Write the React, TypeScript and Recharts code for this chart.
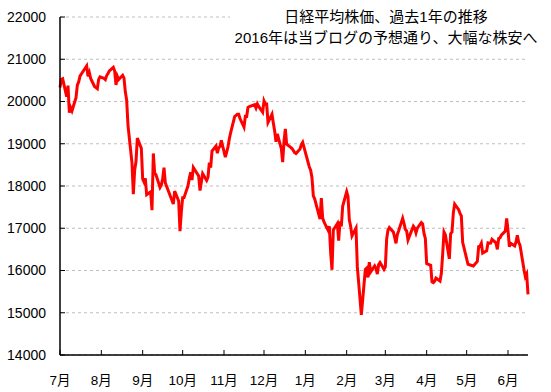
import React from 'react'
import { LineChart, Line, XAxis, YAxis, CartesianGrid } from 'recharts'

// 日経平均 終値 [日, 終値]
const jul2015 = [
  [1, 20329.32], [2, 20522.83], [3, 20539.79], [6, 20112.12], [7, 20376.59],
  [8, 19737.64], [9, 19855.5], [10, 19779.83], [13, 20089.77], [14, 20385.33],
  [15, 20463.33], [16, 20600.12], [17, 20650.92], [21, 20841.97], [22, 20593.67],
  [23, 20683.95], [24, 20544.53], [27, 20350.1], [28, 20328.89], [29, 20302.91],
  [30, 20522.83], [31, 20585.24],
]
const aug2015 = [
  [3, 20548.11], [4, 20520.36], [5, 20614.06], [6, 20664.44], [7, 20724.56],
  [10, 20808.69], [11, 20720.75], [12, 20392.77], [13, 20595.55], [14, 20519.45],
  [17, 20620.26], [18, 20554.47], [19, 20222.63], [20, 20033.52], [21, 19435.83],
  [24, 18540.68], [25, 17806.7], [26, 18376.83], [27, 18574.44], [28, 19136.32],
  [31, 18890.48],
]
const sep2015 = [
  [1, 18165.69], [2, 18095.4], [3, 18182.39], [4, 17792.16], [7, 17860.47],
  [8, 17427.08], [9, 18770.51], [10, 18299.62], [11, 18264.22], [14, 17965.7],
  [15, 18026.48], [16, 18171.6], [17, 18432.27], [18, 18070.21], [24, 17571.83],
  [25, 17880.51], [28, 17645.11], [29, 16930.84], [30, 17388.15],
]
const oct2015 = [
  [1, 17722.42], [2, 17725.13], [5, 18005.49], [6, 18186.1], [7, 18322.98],
  [8, 18141.17], [9, 18438.67], [13, 18234.74], [14, 17891.0], [15, 18096.9],
  [16, 18291.8], [19, 18131.23], [20, 18207.15], [21, 18554.28], [22, 18435.87],
  [23, 18825.3], [26, 18947.12], [27, 18777.04], [28, 18903.02], [29, 18935.71],
  [30, 19083.1],
]
const nov2015 = [
  [2, 18683.24], [4, 18926.91], [5, 19116.41], [6, 19265.6], [9, 19642.74],
  [10, 19671.26], [11, 19697.77], [12, 19697.77], [13, 19596.91], [16, 19393.69],
  [17, 19649.89], [18, 19648.86], [19, 19859.81], [20, 19879.81], [24, 19924.89],
  [25, 19847.58], [26, 19944.41], [27, 19883.94], [30, 19747.47],
]
const dec2015 = [
  [1, 20012.4], [2, 19938.13], [3, 19939.9], [4, 19504.48], [7, 19698.15],
  [8, 19492.6], [9, 19301.07], [10, 19046.55], [11, 19230.48], [14, 18883.42],
  [15, 18565.9], [16, 19049.91], [17, 19353.56], [18, 18986.8], [21, 18916.02],
  [22, 18886.7], [24, 18789.69], [25, 18769.06], [28, 18873.35], [29, 18982.23],
  [30, 19033.71],
]
const jan2016 = [
  [4, 18450.98], [5, 18374.0], [6, 18191.32], [7, 17767.34], [8, 17697.96],
  [12, 17218.96], [13, 17715.63], [14, 17240.95], [15, 17147.11], [18, 16955.57],
  [19, 17048.37], [20, 16416.19], [21, 16017.26], [22, 16958.53], [25, 17110.91],
  [26, 16708.9], [27, 17163.92], [28, 17041.45], [29, 17518.3],
]
const feb2016 = [
  [1, 17865.23], [2, 17750.68], [3, 17191.25], [4, 17044.99], [5, 16819.59],
  [8, 17004.3], [9, 16085.44], [10, 15713.39], [12, 14952.61], [15, 16022.58],
  [16, 16054.43], [17, 15836.36], [18, 16196.76], [19, 15967.17], [22, 16111.05],
  [23, 16052.05], [24, 15915.79], [25, 16140.34], [26, 16188.41], [29, 16026.76],
]
const mar2016 = [
  [1, 16085.51], [2, 16746.55], [3, 16960.16], [4, 17014.78], [7, 16911.32],
  [8, 16783.15], [9, 16642.2], [10, 16852.35], [11, 16938.87], [14, 17233.75],
  [15, 17117.07], [16, 16974.45], [17, 16936.38], [18, 16724.81], [22, 17048.55],
  [23, 17000.98], [24, 16892.33], [25, 17002.75], [28, 17134.37], [29, 17103.53],
  [30, 16878.96], [31, 16758.67],
]
const apr2016 = [
  [1, 16164.16], [4, 16123.27], [5, 15732.82], [6, 15715.36], [7, 15749.84],
  [8, 15821.52], [11, 15751.13], [12, 15928.79], [13, 16381.22], [14, 16911.05],
  [15, 16848.03], [18, 16275.95], [19, 16874.44], [20, 16906.54], [21, 17363.62],
  [22, 17572.49], [25, 17439.3], [26, 17353.28], [27, 17290.49], [28, 16666.05],
]
const may2016 = [
  [2, 16147.38], [6, 16106.72], [9, 16216.03], [10, 16565.19], [11, 16579.01],
  [12, 16646.34], [13, 16412.21], [16, 16466.4], [17, 16652.8], [18, 16644.69],
  [19, 16646.66], [20, 16736.35], [23, 16654.6], [24, 16498.76], [25, 16757.35],
  [26, 16772.46], [27, 16834.84], [30, 16931.89], [31, 17234.98],
]
const jun2016 = [
  [1, 16955.73], [2, 16562.55], [3, 16642.23], [6, 16580.03], [7, 16675.45],
  [8, 16830.92], [9, 16668.41], [10, 16601.36], [13, 16019.18], [14, 15859.0],
  [15, 15919.58], [16, 15434.14],
]

const months = [
  { year: 2015, month: 6, closes: jul2015 },
  { year: 2015, month: 7, closes: aug2015 },
  { year: 2015, month: 8, closes: sep2015 },
  { year: 2015, month: 9, closes: oct2015 },
  { year: 2015, month: 10, closes: nov2015 },
  { year: 2015, month: 11, closes: dec2015 },
  { year: 2016, month: 0, closes: jan2016 },
  { year: 2016, month: 1, closes: feb2016 },
  { year: 2016, month: 2, closes: mar2016 },
  { year: 2016, month: 3, closes: apr2016 },
  { year: 2016, month: 4, closes: may2016 },
  { year: 2016, month: 5, closes: jun2016 },
]

const monthLabels = ['7月', '8月', '9月', '10月', '11月', '12月', '1月', '2月', '3月', '4月', '5月', '6月']
const yTicks = [14000, 15000, 16000, 17000, 18000, 19000, 20000, 21000, 22000]
const titleLines = ['日経平均株価、過去1年の推移', '2016年は当ブログの予想通り、大幅な株安へ']

const DAY = 86400000
const start = Date.UTC(2015, 6, 1)
const dayOf = (y: number, m: number, d: number) => (Date.UTC(y, m, d) - start) / DAY

const monthTicks = months.map((m) => dayOf(m.year, m.month, 1))
const lastDay = dayOf(2016, 5, 16)

const data = months.flatMap(({ year, month, closes }) =>
  closes.map(([d, v]) => ({ day: dayOf(year, month, d), close: v }))
)

const font = '"Liberation Sans", "Noto Sans CJK JP", sans-serif'

export default function App() {
  return (
    <div style={{ position: 'absolute', left: 0, top: 0, width: 551, height: 392, background: '#fff' }}>
      <LineChart
        width={551}
        height={392}
        data={data}
        margin={{ top: 17, right: 23, left: 0, bottom: 0 }}
        style={{ fontFamily: font }}
      >
        <CartesianGrid vertical={false} stroke="#bfbfbf" strokeDasharray="3 3" />
        <XAxis
          dataKey="day"
          type="number"
          domain={[0, lastDay]}
          ticks={monthTicks}
          tickFormatter={(v) => monthLabels[monthTicks.indexOf(v)]}
          height={37}
          tickSize={-5}
          tickMargin={25}
          axisLine={{ stroke: '#000', strokeWidth: 1.5 }}
          tickLine={{ stroke: '#000' }}
          tick={{ fill: '#000', fontSize: 13.5 }}
          interval={0}
        />
        <YAxis
          type="number"
          domain={[14000, 22000]}
          ticks={yTicks}
          width={60}
          tickSize={-5}
          tickMargin={19}
          axisLine={{ stroke: '#000', strokeWidth: 1.5 }}
          tickLine={{ stroke: '#000' }}
          tick={{ fill: '#000', fontSize: 14 }}
          interval={0}
        />
        <Line
          type="linear"
          dataKey="close"
          stroke="#ff0000"
          strokeWidth={3}
          dot={false}
          isAnimationActive={false}
        />
      </LineChart>
      <div
        style={{
          position: 'absolute',
          left: 230,
          top: 6,
          width: 312,
          background: '#fff',
          fontFamily: font,
          fontSize: 15,
          lineHeight: '21px',
          textAlign: 'center',
          color: '#000',
          whiteSpace: 'nowrap',
        }}
      >
        {titleLines.map((t) => (
          <div key={t}>{t}</div>
        ))}
      </div>
    </div>
  )
}
